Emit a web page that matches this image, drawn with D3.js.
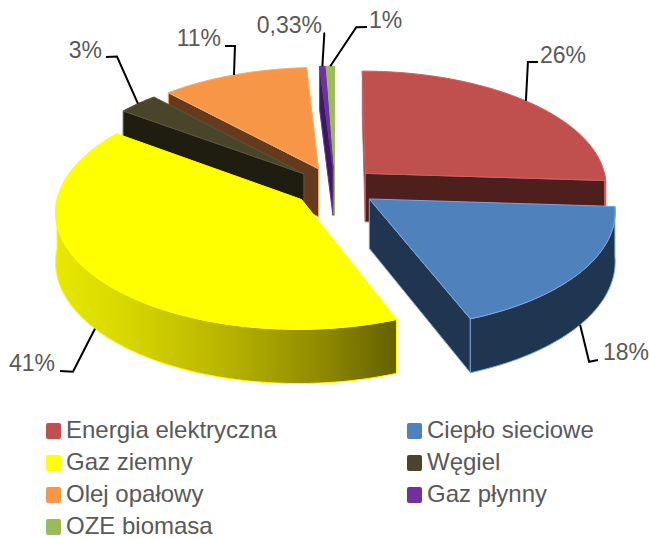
<!DOCTYPE html>
<html>
<head>
<meta charset="utf-8">
<script src="https://cdn.jsdelivr.net/npm/d3@7"></script>
<style>
    html, body { margin: 0; padding: 0; background: #fff; }
    text { font-family: "Liberation Sans", Arial, sans-serif; fill: #595959; }
</style>
</head>
<body>
<div id="chart"></div>
<script>
// data, labels are what the chart prints
const categories = ["Energia elektryczna", "Ciepło sieciowe", "Gaz ziemny", "Węgiel", "Olej opałowy", "Gaz płynny", "OZE biomasa"];
const shares = [26, 18, 41, 3, 11, 0.4, 0.6];
const labels = ["26%", "18%", "41%", "3%", "11%", "0,33%", "1%"];
const faceColors = ["#c0504d", "#4f81bd", "#ffff00", "#4a452a", "#f79646", "#7030a0", "#9bbb59"];
const wallColors = ["#4f1f1e", "#1f3550", "url(#gasWall)", "#1f1c10", "#653a1d", "#3a1c5c", "#5e7136"];
const edgeColors = ["#c96461", "#7aa7dc", "#ffff00", "#5a5540", "#f9a96c", "#7030a0", "#9bbb59"];

// back to front
const drawOrder = [6, 5, 4, 3, 2, 0, 1];

const width = 649;
const height = 538;
const radius = 242;
const tilt = 0.48;
const perspective = 0.0004;
const explode = 42;
const depth = 49;
const centerX = 335;
const centerY = 187;

const x = d3.scaleLinear().domain([-radius, radius]).range([centerX - radius, centerX + radius]);
const y = d3.scaleLinear().domain([-radius, radius]).range([centerY - radius * tilt, centerY + radius * tilt]);

const arcs = d3.pie().sort(null).value(d => d)(shares);

// world position on the tilted disc, dropped by h when on the underside
function project(angle, r, mid, h = 0) {
    const wx = explode * Math.sin(mid) + r * Math.sin(angle);
    const wy = -explode * Math.cos(mid) - r * Math.cos(angle);
    const s = 1 + wy * perspective;
    return [x(wx * s), y(wy * s) + h * s];
}

function rim(a0, a1, mid, h = 0) {
    const n = Math.max(2, Math.ceil((a1 - a0) / 0.02));
    return d3.range(n + 1).map(i => project(a0 + (a1 - a0) * i / n, radius, mid, h));
}

const line = d3.line();

const svg = d3.select("#chart").append("svg")
    .attr("width", width)
    .attr("height", height)
    .attr("viewBox", [0, 0, width, height])
    .style("display", "block");

const grad = svg.append("defs").append("linearGradient")
    .attr("id", "gasWall")
    .attr("gradientUnits", "userSpaceOnUse")
    .attr("x1", 55).attr("x2", 395).attr("y1", 0).attr("y2", 0);
grad.selectAll("stop")
    .data([[0, "#e8e800"], [0.2, "#d8d800"], [0.5, "#b8b400"], [0.8, "#8c8800"], [1, "#666100"]])
    .join("stop")
    .attr("offset", d => d[0])
    .attr("stop-color", d => d[1]);

const pieGroup = svg.append("g");

drawOrder.forEach(i => {
    const a = arcs[i];
    const mid = (a.startAngle + a.endAngle) / 2;
    const g = pieGroup.append("g")
        .attr("stroke", edgeColors[i])
        .attr("stroke-width", 1)
        .attr("stroke-linejoin", "round");

    const apexTop = project(0, 0, mid);
    const apexBottom = project(0, 0, mid, depth);

    // cut walls, only the one that turns towards the viewer
    [[a.startAngle, -1], [a.endAngle, 1]].forEach(([angle, side]) => {
        const top = project(angle, radius, mid);
        if ((top[0] - apexTop[0]) * side > 0) {
            g.append("path")
                .attr("fill", wallColors[i])
                .attr("d", line([apexTop, top, project(angle, radius, mid, depth), apexBottom]) + "Z");
        }
    });

    // outer wall, front half only
    const from = Math.max(a.startAngle, Math.PI / 2);
    const to = Math.min(a.endAngle, Math.PI * 3 / 2);
    if (to > from) {
        g.append("path")
            .attr("fill", wallColors[i])
            .attr("d", line([...rim(from, to, mid), ...rim(from, to, mid, depth).reverse()]) + "Z");
    }

    g.append("path")
        .attr("fill", faceColors[i])
        .attr("d", line([apexTop, ...rim(a.startAngle, a.endAngle, mid)]) + "Z");
});

// leader lines: where it leaves the rim, then elbow and label
const leaderLayout = [
    { elbow: [2, -39], tail: [538, 62], text: [563, 55], anchor: "middle" },
    { elbow: [9, 37], tail: [598, 360], text: [603, 352], anchor: "start" },
    { elbow: [-22, 43], tail: [60, 371], text: [55, 363], anchor: "end" },
    { elbow: [-21, -47], tail: [106, 57], text: [102, 50], anchor: "end" },
    { elbow: [1, -29], tail: [225, 46], text: [221, 38], anchor: "end" },
    { elbow: [2, -33], tail: [325, 33], text: [322, 25], anchor: "end" },
    { elbow: [26, -39], tail: [367, 27], text: [369, 20], anchor: "start" }
];

const leaders = svg.append("g").attr("font-size", 23);
arcs.forEach((a, i) => {
    const l = leaderLayout[i];
    const mid = (a.startAngle + a.endAngle) / 2;
    const start = project(mid, radius, mid, i === 1 || i === 2 ? depth : 0);
    leaders.append("path")
        .attr("fill", "none")
        .attr("stroke", "#000")
        .attr("stroke-width", 2)
        .attr("d", line([start, [start[0] + l.elbow[0], start[1] + l.elbow[1]], l.tail]));
    leaders.append("text")
        .attr("x", l.text[0])
        .attr("y", l.text[1])
        .attr("dy", "0.35em")
        .attr("text-anchor", l.anchor)
        .text(labels[i]);
});

// legend, two columns filled row by row
const legendX = d3.scalePoint().domain([0, 1]).range([46, 407]);
const legendY = d3.scalePoint().domain([0, 1, 2, 3]).range([431, 527]);

const legend = svg.append("g")
    .selectAll("g")
    .data(categories)
    .join("g")
    .attr("transform", (d, i) => `translate(${legendX(i % 2)},${legendY(i === 6 ? 3 : Math.floor(i / 2))})`);

legend.append("rect")
    .attr("x", 0)
    .attr("y", -8)
    .attr("width", 15)
    .attr("height", 16)
    .attr("rx", 2)
    .attr("fill", (d, i) => faceColors[i]);

legend.append("text")
    .attr("x", 20)
    .attr("dy", "0.3em")
    .attr("font-size", 24)
    .text(d => d);
</script>
</body>
</html>
